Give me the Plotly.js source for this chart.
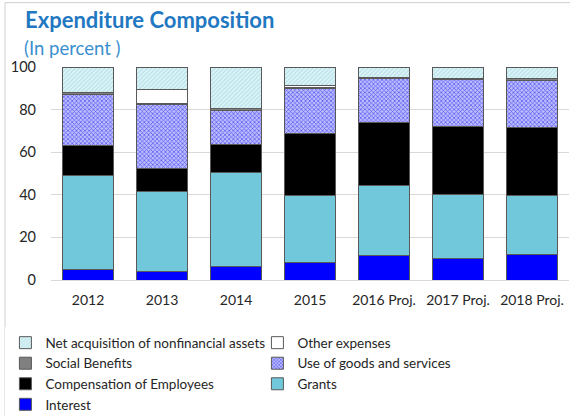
<!DOCTYPE html>
<html>
<head>
<meta charset="utf-8">
<script src="https://cdn.plot.ly/plotly-3.0.1.min.js"></script>
<style>html,body{margin:0;padding:0;background:#fff;}#chart{width:570px;height:416px;}</style>
</head>
<body>
<div id="chart"></div>
<script>
const categories = ["2012", "2013", "2014", "2015", "2016 Proj.", "2017 Proj.", "2018 Proj."];
const interest = [4.7, 4.2, 6.3, 8.0, 11.3, 10.2, 11.8];
const grants = [44.5, 37.2, 44.0, 31.8, 33.0, 30.1, 28.0];
const compensation = [14.1, 11.1, 13.5, 29.2, 29.7, 31.8, 31.8];
const useOfGoods = [23.7, 30.1, 15.7, 21.1, 20.5, 21.9, 22.1];
const socialBenefits = [0.9, 0.2, 0.8, 0.5, 0.7, 0.8, 0.7];
const otherExpenses = [0, 6.5, 0, 0.9, 0.1, 0, 0.3];
const netAcquisition = [12.1, 10.7, 19.7, 8.5, 4.7, 5.2, 5.3];
const yTicks = [0, 20, 40, 60, 80, 100];

const FONT = "Lato, 'Open Sans', sans-serif";
const line = {color: '#595959', width: 1};

function bar(name, y, marker) {
  marker.line = line;
  return {type: 'bar', name: name, x: categories, y: y, marker: marker, hoverinfo: 'skip'};
}

const traces = [
  bar('Interest', interest, {color: '#0000ff'}),
  bar('Grants', grants, {color: '#70c8da'}),
  bar('Compensation of Employees', compensation, {color: '#000000'}),
  bar('Use of goods and services', useOfGoods, {color: '#a8a8ff', pattern: {shape: 'x', fgcolor: '#5252f0', bgcolor: '#bcbcff', size: 3, solidity: 0.4}}),
  bar('Social Benefits', socialBenefits, {color: '#808080'}),
  bar('Other expenses', otherExpenses, {color: '#ffffff'}),
  bar('Net acquisition of nonfinancial assets', netAcquisition, {color: '#dcf2f5', pattern: {shape: '/', fgcolor: '#b2e1e9', bgcolor: '#e0f4f7', size: 3, solidity: 0.4}})
];

const layout = {
  width: 570, height: 416,
  margin: {l: 51, r: 1, t: 67, b: 136},
  paper_bgcolor: '#ffffff', plot_bgcolor: '#ffffff',
  barmode: 'stack', bargap: 0.324,
  font: {family: FONT, size: 14, color: '#262626'},
  showlegend: true,
  legend: {
    orientation: 'h', traceorder: 'reversed',
    xref: 'container', yref: 'container', x: 0.0095, y: 0.213, xanchor: 'left', yanchor: 'top',
    entrywidth: 207, entrywidthmode: 'pixels', itemwidth: 30,
    font: {family: FONT, size: 13.5, color: '#262626'}, tracegroupgap: 0
  },
  xaxis: {
    type: 'category', showgrid: false, showline: false, zeroline: false,
    ticks: '', tickfont: {family: FONT, size: 14, color: '#262626'}, ticklabelstandoff: 10
  },
  yaxis: {
    range: [0, 100], tickvals: yTicks, ticktext: yTicks.map(String),
    showgrid: true, gridcolor: '#d9d9d9', gridwidth: 1, zeroline: true, zerolinecolor: '#d9d9d9',
    showline: false, ticks: '', tickfont: {family: FONT, size: 14.5, color: '#262626'}, ticklabelstandoff: 14
  },
  annotations: [
    {text: '<b>Expenditure Composition</b>', xref: 'paper', yref: 'paper', x: (23 - 51) / 518, y: (280 - 35) / 212.7,
     xanchor: 'left', yanchor: 'bottom', showarrow: false, font: {family: FONT, size: 22, color: '#1f78c1'}},
    {text: '(In percent )', xref: 'paper', yref: 'paper', x: (22 - 51) / 518, y: (280 - 61) / 212.7,
     xanchor: 'left', yanchor: 'bottom', showarrow: false, font: {family: FONT, size: 18.5, color: '#3a8fd0'}}
  ],
  shapes: [
    {type: 'line', xref: 'paper', yref: 'paper', x0: (5 - 51) / 518, x1: (5 - 51) / 518, y0: (280 - 3) / 212.7, y1: (280 - 420) / 212.7, line: {color: '#d0d0d0', width: 1}},
    {type: 'line', xref: 'paper', yref: 'paper', x0: (5 - 51) / 518, x1: (572 - 51) / 518, y0: (280 - 3) / 212.7, y1: (280 - 3) / 212.7, line: {color: '#d0d0d0', width: 1}}
  ]
};

Plotly.newPlot('chart', traces, layout, {staticPlot: true, displayModeBar: false});
</script>
</body>
</html>
